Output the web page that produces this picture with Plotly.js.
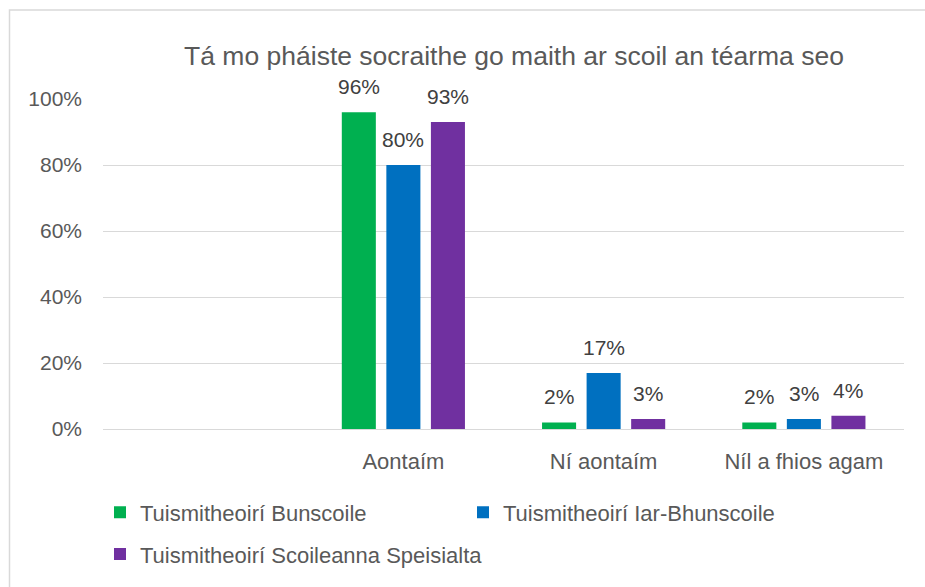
<!DOCTYPE html>
<html>
<head>
<meta charset="utf-8">
<script src="https://cdn.plot.ly/plotly-3.0.1.min.js"></script>
<style>
  html, body { margin: 0; padding: 0; background: #fff; }
  #chart { width: 925px; height: 587px; }
</style>
</head>
<body>
<div id="chart"></div>
<script>
// ---- Data ----
const chartTitle = "Tá mo pháiste socraithe go maith ar scoil an téarma seo";
const categories = ["Aontaím", "Ní aontaím", "Níl a fhios agam"];
const seriesNames = [
  "Tuismitheoirí Bunscoile",
  "Tuismitheoirí Iar-Bhunscoile",
  "Tuismitheoirí Scoileanna Speisialta"
];
const bunscoile = [0.96, 0.02, 0.02];
const iarBhunscoile = [0.80, 0.17, 0.03];
const speisialta = [0.93, 0.03, 0.04];
const yTickVals = [0, 0.2, 0.4, 0.6, 0.8, 1.0];
const yTickText = ["0%", "20%", "40%", "60%", "80%", "100%"];

// ---- Styling ----
const colors = ["#00B050", "#0070C0", "#7030A0"];
const FONT = "Liberation Sans, Arial, sans-serif";
const textGrey = "#595959";
const labelGrey = "#404040";

const seriesValues = [bunscoile, iarBhunscoile, speisialta];
const legendIds = ["legend", "legend2", "legend3"];

// plot area geometry (pixels) used for positioning paper-relative items
const L = 103, R = 21, T = 99, B = 156, W = 925, H = 587;
const pw = W - L - R, ph = H - T - B;
const px2x = p => (p - L) / pw;
const py2y = p => (H - B - p) / ph;

const BARGAP = 0.3325, BARGROUPGAP = 0.236;
const nSlots = 4; // x range spans 4 category slots
const slotPx = pw / nSlots;
const barPitch = slotPx * (1 - BARGAP) / seriesValues.length;

const traces = seriesValues.map((vals, i) => ({
  type: "bar",
  name: seriesNames[i],
  x: categories,
  y: vals,
  marker: { color: colors[i] },
  hoverinfo: "x+y+name",
  legend: legendIds[i]
}));

// data labels as annotations placed through the axes
const annotations = [];
seriesValues.forEach((vals, i) => {
  vals.forEach((v, j) => {
    annotations.push({
      xref: "x", yref: "y",
      x: categories[j], y: v,
      text: Math.round(v * 100) + "%",
      showarrow: false,
      xanchor: "center",
      yanchor: "bottom",
      xshift: (i - (seriesValues.length - 1) / 2) * barPitch,
      yshift: 12,
      font: { family: FONT, size: 21, color: labelGrey }
    });
  });
});

const legendBase = {
  orientation: "h",
  xanchor: "left",
  yanchor: "middle",
  bgcolor: "rgba(0,0,0,0)",
  borderwidth: 0,
  font: { family: FONT, size: 22, color: textGrey }
};

const layout = {
  width: W,
  height: H,
  margin: { l: L, r: R, t: T, b: B },
  paper_bgcolor: "#ffffff",
  plot_bgcolor: "#ffffff",
  title: {
    text: chartTitle,
    font: { family: FONT, size: 26.5, color: textGrey },
    xref: "container",
    yref: "container",
    x: 514 / W,
    xanchor: "center",
    y: 1 - 56 / H,
    yanchor: "middle"
  },
  barmode: "group",
  bargap: BARGAP,
  bargroupgap: BARGROUPGAP,
  xaxis: {
    type: "category",
    range: [-1.5, 2.5],
    showgrid: false,
    showline: false,
    zeroline: false,
    ticks: "",
    ticklabelstandoff: 17,
    tickfont: { family: FONT, size: 22, color: textGrey },
    fixedrange: true
  },
  yaxis: {
    range: [0, 1],
    tickvals: yTickVals,
    ticktext: yTickText,
    showgrid: true,
    gridcolor: "#D9D9D9",
    gridwidth: 1,
    zeroline: true,
    zerolinecolor: "#D9D9D9",
    zerolinewidth: 1,
    showline: false,
    ticks: "",
    ticklabelstandoff: 20,
    tickfont: { family: FONT, size: 21, color: textGrey },
    fixedrange: true
  },
  legend: Object.assign({}, legendBase, { x: px2x(100), y: py2y(515) }),
  legend2: Object.assign({}, legendBase, { x: px2x(463), y: py2y(515) }),
  legend3: Object.assign({}, legendBase, { x: px2x(100), y: py2y(557) }),
  annotations: annotations,
  shapes: [{
    type: "rect",
    xref: "paper",
    yref: "paper",
    x0: px2x(9.5),
    x1: px2x(960),
    y0: py2y(620),
    y1: py2y(9.5),
    line: { color: "#D9D9D9", width: 1.5 },
    fillcolor: "rgba(0,0,0,0)",
    layer: "below"
  }],
  showlegend: true
};

Plotly.newPlot("chart", traces, layout, { displayModeBar: false, staticPlot: true });
</script>
</body>
</html>
